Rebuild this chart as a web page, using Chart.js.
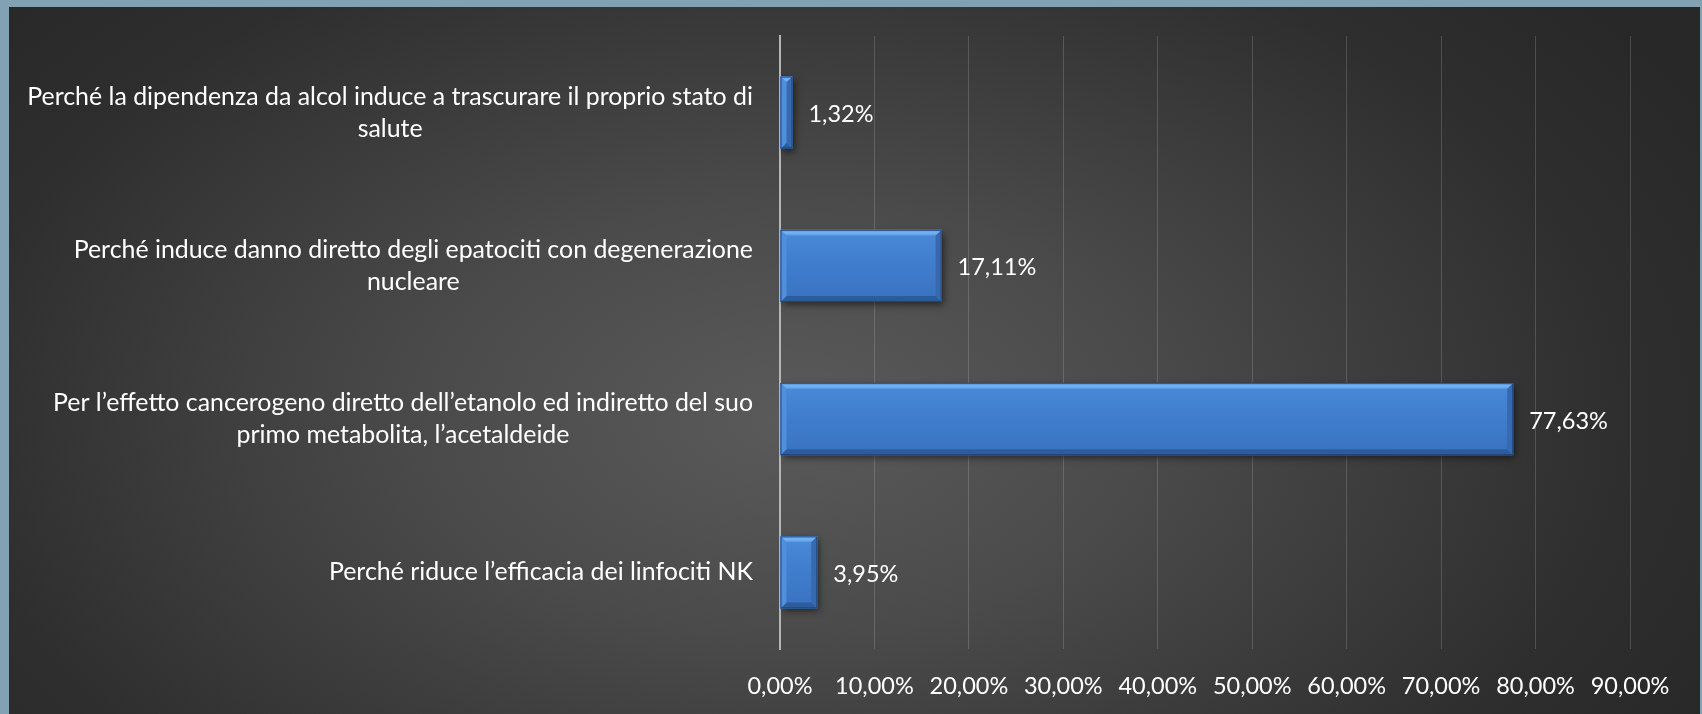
<!DOCTYPE html>
<html>
<head>
<meta charset="utf-8">
<script src="https://cdn.jsdelivr.net/npm/chart.js@4.4.0/dist/chart.umd.min.js"></script>
<style>
  html, body { margin: 0; padding: 0; width: 1702px; height: 714px; overflow: hidden; background: #82a2b3; }
  #panel {
    position: absolute; left: 9px; top: 7px; right: 2px; bottom: 0;
    background: radial-gradient(ellipse 62% 90% at 46% 58%, #5a5a5a 0%, #4a4a4a 35%, #2e2e2e 80%, #282828 100%);
  }
  #wrap { position: absolute; left: 0; top: 0; width: 1702px; height: 714px; }
</style>
</head>
<body>
<div id="panel"></div>
<div id="wrap"><canvas id="barChart"></canvas></div>
<script>

const categories = [
    ["Perché la dipendenza da alcol induce a trascurare il proprio stato di", "salute"],
    ["Perché induce danno diretto degli epatociti con degenerazione", "nucleare"],
    ["Per l\u2019effetto cancerogeno diretto dell\u2019etanolo ed indiretto del suo", "primo metabolita, l\u2019acetaldeide"],
    ["Perché riduce l\u2019efficacia dei linfociti NK"]
];

const values = [1.32, 17.11, 77.63, 3.95];

const xTicks = [0, 10, 20, 30, 40, 50, 60, 70, 80, 90];

const FONT = "Lato, 'Open Sans', sans-serif";

function pct(v){
    return v.toFixed(2).replace(".", ",") + "%";
}

// category labels: lines centred on each other, block right-aligned to the axis
const labelPlugin = {
    id: "catLabels",
    afterDraw(chart){
        const c = chart.ctx;
        const yScale = chart.scales.y;
        const right = chart.chartArea.left - 27;
        c.save();
        c.font = "24.9px " + FONT;
        c.fillStyle = "#ffffff";
        c.textBaseline = "middle";
        c.textAlign = "center";
        const lh = 32;
        categories.forEach((lines, i) => {
            const yc = yScale.getPixelForTick(i);
            const w = Math.max(...lines.map(l => c.measureText(l).width));
            const cx = right - w / 2;
            const y0 = yc - (lines.length - 1) * lh / 2;
            lines.forEach((l, k) => c.fillText(l, cx, y0 + k * lh));
        });
        c.restore();
    }
};

// bevel look + value labels
const barPlugin = {
    id: "bevelBars",
    beforeDatasetsDraw(chart){
        const c = chart.ctx;
        c.save();
        c.shadowColor = "rgba(0,0,0,0.55)";
        c.shadowBlur = 7;
        c.shadowOffsetX = 2;
        c.shadowOffsetY = 3;
    },
    afterDatasetsDraw(chart){
        const c = chart.ctx;
        c.restore();
        const meta = chart.getDatasetMeta(0);
        meta.data.forEach((bar, i) => {
            const x0 = bar.base, x1 = bar.x;
            const top = bar.y - bar.height / 2, bot = bar.y + bar.height / 2;
            const b = Math.min(6, (x1 - x0) / 2);

            c.save();
            const g = c.createLinearGradient(0, top, 0, bot);
            g.addColorStop(0, "#4a8ad9");
            g.addColorStop(0.5, "#3f7dcc");
            g.addColorStop(1, "#3a72bf");
            c.fillStyle = g;
            c.fillRect(x0, top, x1 - x0, bot - top);

            // top bevel
            const tg = c.createLinearGradient(0, top, 0, top + b);
            tg.addColorStop(0, "#5d9de8");
            tg.addColorStop(0.5, "#74b4f4");
            tg.addColorStop(1, "#5494e0");
            c.fillStyle = tg;
            c.beginPath();
            c.moveTo(x0, top); c.lineTo(x1, top); c.lineTo(x1 - b, top + b); c.lineTo(x0 + b, top + b);
            c.closePath(); c.fill();
            // bottom bevel
            c.fillStyle = "#2c5c9e";
            c.beginPath();
            c.moveTo(x0, bot); c.lineTo(x1, bot); c.lineTo(x1 - b, bot - b); c.lineTo(x0 + b, bot - b);
            c.closePath(); c.fill();
            // right bevel
            c.fillStyle = "#3669ad";
            c.beginPath();
            c.moveTo(x1, top); c.lineTo(x1, bot); c.lineTo(x1 - b, bot - b); c.lineTo(x1 - b, top + b);
            c.closePath(); c.fill();
            // left bevel
            c.fillStyle = "#4f8fdc";
            c.beginPath();
            c.moveTo(x0, top); c.lineTo(x0, bot); c.lineTo(x0 + b, bot - b); c.lineTo(x0 + b, top + b);
            c.closePath(); c.fill();
            c.strokeStyle = "rgba(30,60,110,0.8)";
            c.lineWidth = 1;
            c.strokeRect(x0 + 0.5, top + 0.5, x1 - x0 - 1, bot - top - 1);

            c.font = "23.5px " + FONT;
            c.fillStyle = "#ffffff";
            c.textAlign = "left";
            c.textBaseline = "middle";
            c.fillText(pct(values[i]), x1 + 16, bar.y + 2);
            c.restore();
        });
    }
};

const ctx = document.getElementById("barChart");

new Chart(ctx, {

    type: "bar",

    data: {
        labels: categories,
        datasets: [
            {
                data: values,
                backgroundColor: "#3d7bcc",
                borderWidth: 0,
                categoryPercentage: 1,
                barPercentage: 0.47
            }
        ]
    },

    options: {
        indexAxis: "y",
        responsive: true,
        maintainAspectRatio: false,
        animation: false,
        events: [],
        layout: {
            padding: { top: 36, right: 72, bottom: 0, left: 0 }
        },
        plugins: {
            legend: { display: false },
            tooltip: { enabled: false }
        },
        scales: {
            x: {
                min: 0,
                max: 90,
                afterBuildTicks(scale){
                    scale.ticks = xTicks.map(v => ({ value: v }));
                },
                afterFit(scale){
                    scale.height = 65;
                },
                grid: {
                    color: "rgba(255,255,255,0.16)",
                    lineWidth: 1,
                    drawTicks: false
                },
                border: { display: false },
                ticks: {
                    color: "#ffffff",
                    padding: 23,
                    font: { family: FONT, size: 23.5 },
                    callback: (v) => pct(v)
                }
            },
            y: {
                afterFit(scale){
                    scale.width = 780;
                },
                grid: { display: false },
                border: { display: true, color: "#b5b5b5", width: 2 },
                ticks: { display: false }
            }
        }
    },

    plugins: [barPlugin, labelPlugin]

});

</script>
</body>
</html>
